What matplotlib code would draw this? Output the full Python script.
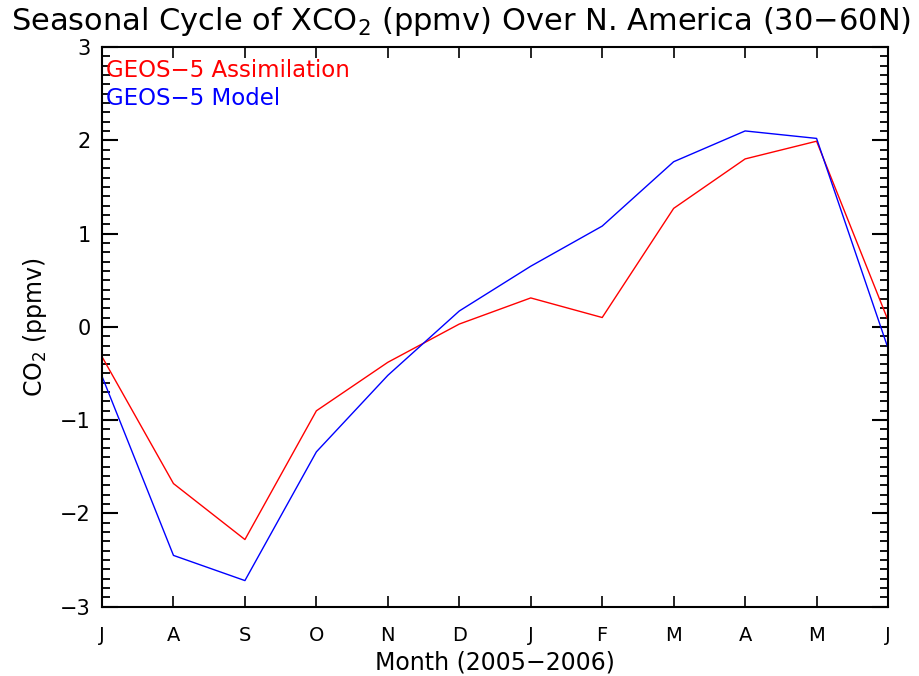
import matplotlib
matplotlib.use("Agg")
import matplotlib.pyplot as plt
from matplotlib.ticker import MultipleLocator

months = ["J", "A", "S", "O", "N", "D", "J", "F", "M", "A", "M", "J"]
assim = [-0.32, -1.68, -2.28, -0.90, -0.38, 0.03, 0.31, 0.10, 1.27, 1.80, 1.99, 0.07]
model = [-0.53, -2.45, -2.72, -1.34, -0.52, 0.17, 0.65, 1.08, 1.77, 2.10, 2.02, -0.23]
yticks = [-3, -2, -1, 0, 1, 2, 3]

plt.rcParams["font.family"] = "DejaVu Sans"

fig = plt.figure(figsize=(9.19, 6.76), dpi=100)
ax = fig.add_axes([0.111, 0.1025, 0.8553, 0.828])

x = list(range(len(months)))
ax.plot(x, assim, color="#ff0000", lw=1.0)
ax.plot(x, model, color="#0000ff", lw=1.0)

ax.set_xlim(0, len(months) - 1)
ax.set_ylim(-3, 3)
ax.set_xticks(x)
ax.set_xticklabels(months)
ax.set_yticks(yticks)
ax.yaxis.set_minor_locator(MultipleLocator(0.1))

for s in ax.spines.values():
    s.set_linewidth(1.5)
ax.tick_params(axis="y", which="major", direction="in", length=11.5, width=1.5,
               left=True, right=True, labelsize=15, pad=8)
ax.tick_params(axis="y", which="minor", direction="in", length=5.8, width=1.3,
               left=True, right=True)
ax.tick_params(axis="x", which="major", direction="in", length=8, width=1.2,
               bottom=True, top=True, labelsize=14, pad=14)

# series labels in the upper-left corner
ax.text(0.005, 0.978, "GEOS\u22125 Assimilation", color="#ff0000", fontsize=16.5,
        transform=ax.transAxes, va="top", ha="left")
ax.text(0.005, 0.928, "GEOS\u22125 Model", color="#0000ff", fontsize=16.5,
        transform=ax.transAxes, va="top", ha="left")

ax.set_xlabel("Month (2005\u22122006)", fontsize=17, labelpad=4)
ax.set_ylabel("CO$_2$ (ppmv)", fontsize=17, labelpad=8)
fig.text(0.502, 0.955, "Seasonal Cycle of XCO$_2$ (ppmv) Over N. America (30\u221260N)",
         ha="center", va="baseline", fontsize=22)

fig.savefig("out.png", dpi=100)
